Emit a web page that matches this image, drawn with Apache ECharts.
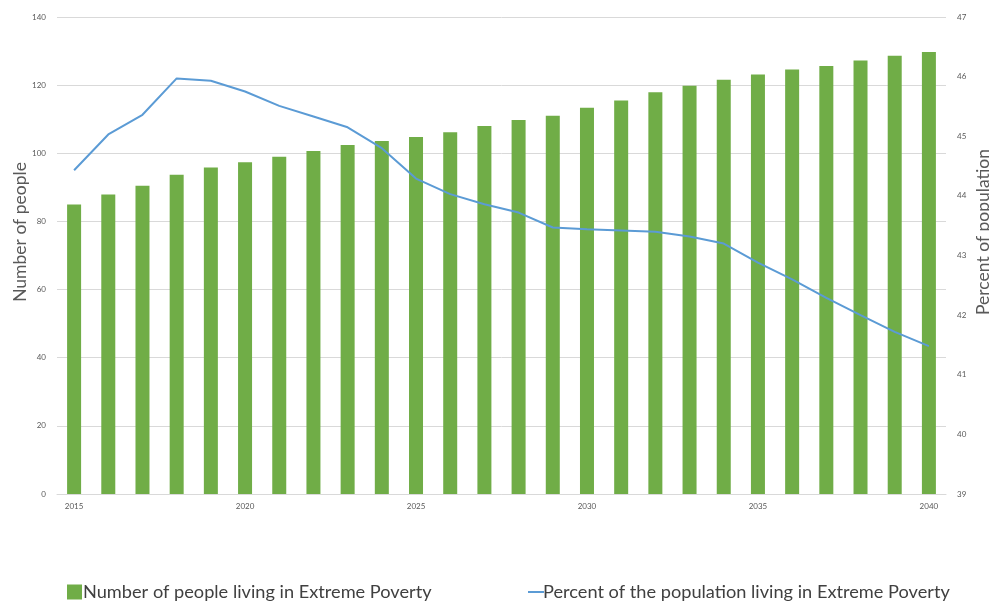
<!DOCTYPE html>
<html>
<head>
<meta charset="utf-8">
<script src="https://cdn.jsdelivr.net/npm/echarts@6/dist/echarts.min.js"></script>
<style>
  html, body { margin: 0; padding: 0; background: #fff; }
  #chart { width: 989px; height: 601px; }
</style>
</head>
<body>
<div id="chart"></div>
<script>
// Years on the category axis
const years = [2015, 2016, 2017, 2018, 2019, 2020, 2021, 2022, 2023, 2024, 2025, 2026, 2027,
               2028, 2029, 2030, 2031, 2032, 2033, 2034, 2035, 2036, 2037, 2038, 2039, 2040];

// Number of people living in extreme poverty (millions)
const peopleInPoverty = [85.0, 87.9, 90.5, 93.7, 95.8, 97.4, 99.0, 100.7, 102.4, 103.6, 104.8, 106.2, 108.0,
                         109.8, 111.0, 113.4, 115.5, 117.9, 119.8, 121.6, 123.1, 124.6, 125.6, 127.2, 128.6, 129.7];

// Share of the population living in extreme poverty (%)
const percentInPoverty = [44.43, 45.03, 45.36, 45.97, 45.93, 45.75, 45.51, 45.33, 45.15, 44.80, 44.29, 44.03, 43.86,
                          43.72, 43.47, 43.44, 43.42, 43.40, 43.32, 43.20, 42.88, 42.60, 42.29, 42.00, 41.72, 41.48];

const barName = 'Number of people living in Extreme Poverty';
const lineName = 'Percent of the population living in Extreme Poverty';

const FONT = 'Lato, "Open Sans", sans-serif';
const GREEN = '#70ad47';
const BLUE = '#5b9bd5';
const GRID_COLOR = '#d9d9d9';
const LABEL_COLOR = '#595959';

const chart = echarts.init(document.getElementById('chart'), null, { renderer: 'canvas' });

chart.setOption({
  animation: false,
  textStyle: { fontFamily: FONT },
  grid: { left: 57, right: 43, top: 17, bottom: 107, containLabel: false },
  legend: [
    {
      left: 62, top: 578,
      itemWidth: 15, itemHeight: 15, itemGap: 2,
      icon: 'rect',
      data: [barName],
      textStyle: { fontSize: 18.2, color: '#404040', fontFamily: FONT, padding: [0, 0, 0, -4] }
    },
    {
      left: 523, top: 578,
      itemWidth: 16, itemHeight: 2,
      icon: 'rect',
      data: [{ name: lineName, itemStyle: { color: BLUE } }],
      textStyle: { fontSize: 18.2, color: '#404040', fontFamily: FONT, padding: [0, 0, 0, -6] }
    }
  ],
  xAxis: {
    type: 'category',
    data: years,
    boundaryGap: true,
    axisLine: { show: true, lineStyle: { color: GRID_COLOR, width: 1 } },
    axisTick: { show: false },
    axisLabel: {
      interval: 4,
      fontSize: 8,
      color: LABEL_COLOR,
      margin: 8
    }
  },
  yAxis: [
    {
      type: 'value',
      min: 0, max: 140, interval: 20,
      axisLine: { show: false },
      axisTick: { show: false },
      splitLine: { show: true, lineStyle: { color: GRID_COLOR, width: 1 } },
      axisLabel: { fontSize: 8, color: LABEL_COLOR, margin: 11 }
    },
    {
      type: 'value',
      min: 39, max: 47, interval: 1,
      position: 'right',
      axisLine: { show: false },
      axisTick: { show: false },
      splitLine: { show: false },
      axisLabel: { fontSize: 8, color: LABEL_COLOR, margin: 11 }
    }
  ],
  // Rotated axis titles placed alongside each value axis
  graphic: [
    {
      type: 'text',
      x: 20, y: 232,
      rotation: Math.PI / 2,
      style: {
        text: 'Number of people',
        fontSize: 17.5, fill: LABEL_COLOR, fontFamily: FONT,
        align: 'center', verticalAlign: 'middle'
      }
    },
    {
      type: 'text',
      x: 983, y: 232,
      rotation: Math.PI / 2,
      style: {
        text: 'Percent of population',
        fontSize: 17.5, fill: LABEL_COLOR, fontFamily: FONT,
        align: 'center', verticalAlign: 'middle'
      }
    }
  ],
  series: [
    {
      name: barName,
      type: 'bar',
      yAxisIndex: 0,
      data: peopleInPoverty,
      barWidth: 14,
      itemStyle: { color: GREEN },
      z: 2
    },
    {
      name: lineName,
      type: 'line',
      yAxisIndex: 1,
      data: percentInPoverty,
      showSymbol: false,
      symbol: 'none',
      lineStyle: { color: BLUE, width: 2 },
      itemStyle: { color: BLUE },
      z: 3
    }
  ]
});
</script>
</body>
</html>
